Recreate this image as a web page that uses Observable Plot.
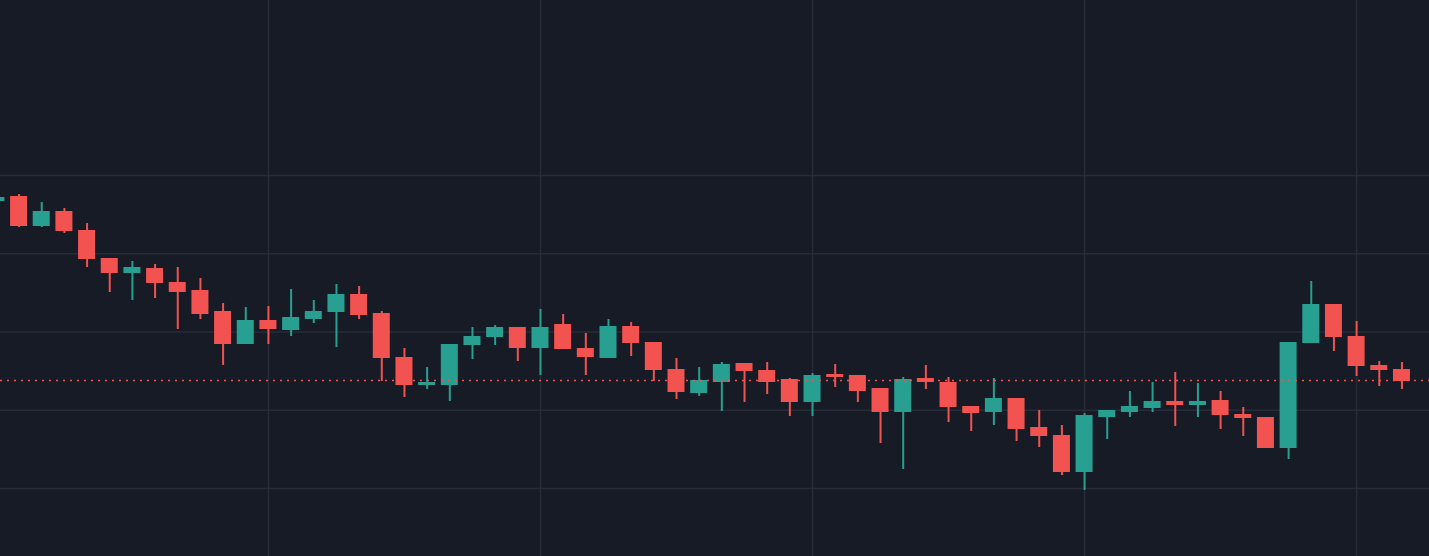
<!DOCTYPE html>
<html>
<head>
<meta charset="utf-8">
<script src="https://cdn.jsdelivr.net/npm/d3@7"></script>
<script src="https://cdn.jsdelivr.net/npm/@observablehq/plot@0.6"></script>
<style>
  html, body { margin: 0; padding: 0; background: #171b26; overflow: hidden; }
  #chart svg { display: block; }
</style>
</head>
<body>
<div id="chart"></div>
<script>
// OHLC values, one entry per session (index 0..62)
const opens  = [129.9,130.4,127.4,128.9,127.0,124.2,122.7,123.2,121.8,121.0,118.9,115.6,118.0,117.0,118.1,118.8,120.6,118.7,114.3,111.5,111.5,115.5,116.3,117.3,115.2,117.6,115.2,114.2,117.4,115.8,113.1,110.7,111.8,113.7,113.0,112.1,109.8,112.6,112.5,111.2,108.8,112.2,111.8,109.4,108.8,110.2,107.3,106.5,102.8,108.3,108.8,109.2,109.9,109.5,110.0,108.6,108.3,105.2,115.7,119.6,116.4,113.5,113.1];
const highs  = [130.4,130.6,129.8,129.2,127.7,124.2,123.9,123.6,123.3,122.2,119.7,119.3,119.4,121.1,120.0,121.6,121.4,118.9,115.2,113.3,115.6,117.3,117.5,117.3,119.1,118.6,116.7,118.1,117.8,115.8,114.2,113.3,113.8,113.7,113.8,112.2,112.7,113.6,112.5,111.2,112.3,113.5,112.3,109.4,112.2,110.2,109.0,107.5,108.7,109.0,110.9,111.8,112.8,111.7,110.9,109.3,108.3,115.8,121.9,119.6,117.9,113.9,113.8];
const lows   = [129.8,127.3,127.3,126.7,123.3,120.8,120.0,120.2,117.1,118.1,113.5,115.6,115.6,116.4,117.7,115.3,118.1,111.9,110.3,111.1,109.9,114.1,115.5,113.9,112.5,115.1,112.5,114.2,114.4,111.9,110.1,110.4,108.9,109.8,110.6,108.4,108.4,111.3,109.8,105.7,103.1,111.1,107.8,106.9,107.5,105.9,105.3,102.5,101.0,106.1,108.3,108.8,107.4,108.3,107.1,106.4,105.2,104.1,115.7,114.9,112.4,111.4,111.1];
const closes = [130.3,127.4,128.9,126.9,124.1,122.7,123.3,121.7,120.8,118.6,115.6,118.0,117.1,118.3,118.9,120.6,118.5,114.2,111.5,111.8,115.6,116.4,117.3,115.2,117.3,115.1,114.3,117.4,115.7,113.0,110.8,112.0,113.6,112.9,111.8,109.8,112.5,112.3,110.9,108.8,112.1,111.8,109.3,108.7,110.2,107.1,106.4,102.8,108.5,109.0,109.4,109.9,109.5,109.9,108.5,108.2,105.2,115.8,119.6,116.3,113.4,113.0,111.9];

// current-price line and grid levels
const lastPrice = 112.0;
const gridPrices = [132.5, 124.68, 116.85, 109.03, 101.2];
const gridSessions = [12, 24, 36, 48, 60];

const upColor = "#27a092";
const downColor = "#f25350";
const gridColor = "#282c39";

const candles = opens.map((o, i) => ({
  i, open: o, high: highs[i], low: lows[i], close: closes[i]
}));
const col = d => d.close >= d.open ? upColor : downColor;

const chart = Plot.plot({
  width: 1429,
  height: 556,
  margin: 0,
  style: { background: "#171b26" },
  x: { type: "linear", domain: [0.181, 63.215], axis: null },
  y: { type: "linear", domain: [94.4, 150], axis: null },
  marks: [
    Plot.ruleY(gridPrices, { stroke: gridColor, strokeWidth: 1.5 }),
    Plot.ruleX(gridSessions, { stroke: gridColor, strokeWidth: 1.5 }),
    Plot.ruleX(candles, { x: "i", y1: "low", y2: "high", stroke: col, strokeWidth: 2 }),
    Plot.rect(candles, {
      x1: d => d.i - 0.375,
      x2: d => d.i + 0.375,
      y1: "open",
      y2: "close",
      fill: col
    }),
    Plot.ruleY([lastPrice], { stroke: downColor, strokeWidth: 1.5, strokeDasharray: "2,5" })
  ]
});
document.getElementById("chart").appendChild(chart);
</script>
</body>
</html>
